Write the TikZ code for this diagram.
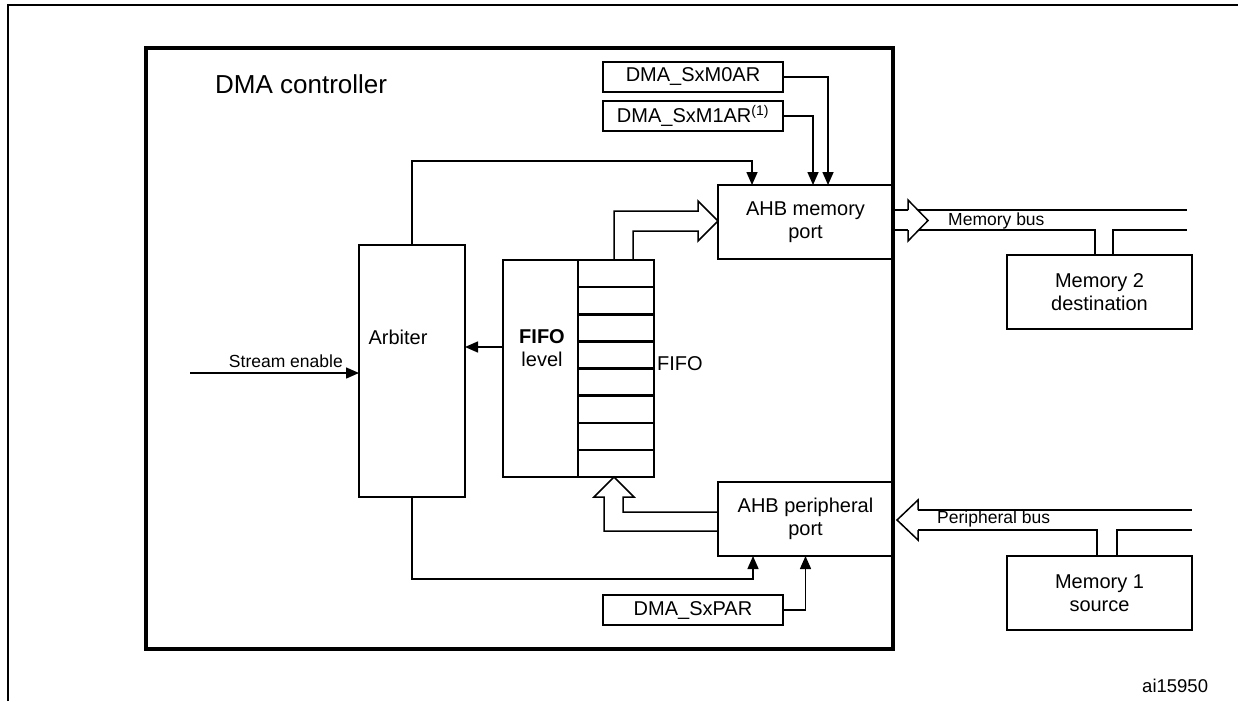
\documentclass[tikz,border=0pt]{standalone}
\usepackage{fontspec}
\setmainfont{Liberation Sans}
\usetikzlibrary{arrows.meta}
\tikzset{
  box/.style={draw, line width=2.5pt, inner sep=0pt, outer sep=0pt, align=center},
  thin/.style={line width=1.5pt},
  arr/.style={thin, -{Triangle[length=13pt,width=11pt]}},
  hollow/.style={line width=1.5pt, line join=miter},
  lbl/.style={font=\fontsize{20}{23}\selectfont, align=center, inner sep=0pt},
  small/.style={font=\fontsize{17.5}{20}\selectfont, inner sep=0pt},
}
\begin{document}
\begin{tikzpicture}[x=1pt,y=-1pt]
\useasboundingbox (0,0) rectangle (1238,701);
% outer frame
\draw[line width=2pt] (8,701) -- (8,5) -- (1238,5);
% DMA controller
\node[box, line width=4pt, minimum width=747pt, minimum height=601pt] (dma) at (519.5,348.5) {};
\node[font=\fontsize{26}{30}\selectfont, anchor=base west, inner sep=0pt] (dmal) at (215,93) {DMA controller};
% registers
\node[box, lbl, minimum width=180pt, minimum height=30pt] (m0) at (693,77) {DMA\_SxM0AR};
\node[box, lbl, minimum width=180pt, minimum height=30pt] (m1) at (693,116) {DMA\_SxM1AR\textsuperscript{(1)}};
\node[box, lbl, minimum width=180pt, minimum height=30pt] (par) at (693,610) {DMA\_SxPAR};
% ports
\node[box, lbl, minimum width=175pt, minimum height=74pt] (ahbm) at (805.5,222) {AHB memory\\port};
\node[box, lbl, minimum width=175pt, minimum height=74pt] (ahbp) at (805.5,519) {AHB peripheral\\port};
% arbiter
\node[box, minimum width=106pt, minimum height=252pt] (arb) at (412,371) {};
\node[lbl] (arbl) at (398,337) {Arbiter};
% FIFO
\node[box, minimum width=75pt, minimum height=217pt] (fl) at (540.5,368.5) {};
\node[lbl] (fll) at (542,348) {\textbf{FIFO}\\level};
\node[box, minimum width=76pt, minimum height=217pt] (fc) at (616,368.5) {};
\foreach \k in {1,...,7} \draw[line width=2.5pt] (578,260+27.125*\k) -- (654,260+27.125*\k);
\node[lbl, anchor=west] (fifol) at (657,364) {FIFO};
% memories
\node[box, lbl, minimum width=185pt, minimum height=74pt] (mem2) at (1099.5,292) {Memory 2\\destination};
\node[box, lbl, minimum width=185pt, minimum height=74pt] (mem1) at (1099.5,593) {Memory 1\\source};
% control connectors
\draw[arr] (m0.east) -| ([xshift=22.5pt]ahbm.north);
\draw[arr] (m1.east) -| ([xshift=7.5pt]ahbm.north);
\draw[arr] (arb.north) -- ++(0,-84) -| ([xshift=-53.5pt]ahbm.north);
\draw[arr] (arb.south) -- ++(0,82) -| ([xshift=-52.5pt]ahbp.south);
\draw[arr] (par.east) -| (ahbp.south);
\coordinate (fa) at ([yshift=21.5pt]fl.west);
\draw[arr] (fa) -- (fa -| arb.east);
\coordinate (se) at (190,373);
\draw[arr] (se) -- (se -| arb.west);
\node[small, anchor=base east] (sel) at (343,367) {Stream enable};
% hollow arrow FIFO -> AHB memory
\draw[hollow] (614,260) -- (614,211) -- (698,211) -- (698,201) -- (718,221) -- (698,241) -- (698,231) -- (633,231) -- (633,260);
% hollow arrow AHB peripheral -> FIFO
\draw[hollow] (718,512) -- (623,512) -- (623,497) -- (634,497) -- (614,477) -- (594,497) -- (604,497) -- (604,531) -- (718,531);
% memory bus
\draw[thin] (893,210) -- (1187,210);
\draw[thin] (893,230) -- (1095,230) -- (1095,255);
\draw[thin] (1113,255) -- (1113,230) -- (1187,230);
\fill[white] (908,200) -- (928,220.5) -- (908,241) -- cycle;
\draw[hollow] (908,210) -- (908,200) -- (928,220.5) -- (908,241) -- (908,230);
\node[small, anchor=base west] (mbl) at (948,225) {Memory bus};
% peripheral bus
\draw[thin] (918,510) -- (1192,510);
\draw[thin] (918,530) -- (1097,530) -- (1097,556);
\draw[thin] (1117,556) -- (1117,530) -- (1192,530);
\draw[hollow] (918,510) -- (918,500) -- (897,520) -- (918,540) -- (918,530);
\node[small, anchor=base west] (pbl) at (937,523) {Peripheral bus};
% id
\node[font=\fontsize{18.5}{21}\selectfont, anchor=base west, inner sep=0pt] (ai) at (1142,692) {ai15950};
\end{tikzpicture}
\end{document}
